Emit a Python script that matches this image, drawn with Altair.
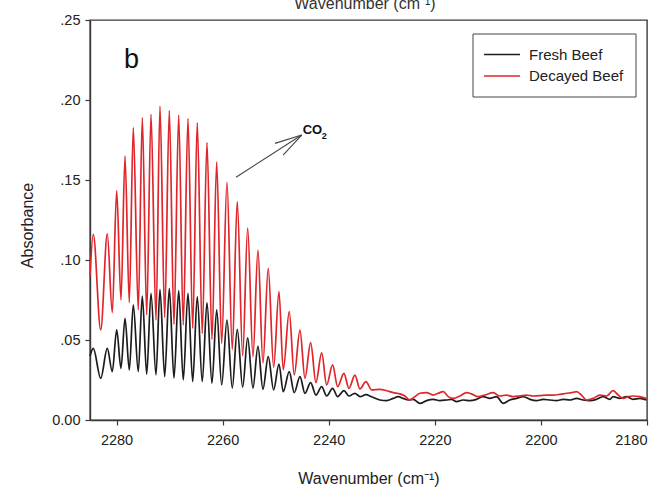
import altair as alt
import pandas as pd

FONT = "Liberation Sans"
series_names = ["Fresh Beef", "Decayed Beef"]
series_colors = ["#1c1c1c", "#e0262b"]

# CO2 rotational line positions (cm-1)
peak_wn = [2284.38, 2281.74, 2279.97, 2278.40, 2276.84, 2275.14, 2273.50, 2271.81,
           2270.05, 2268.28, 2266.53, 2264.78, 2262.95, 2261.12, 2259.18, 2257.24,
           2255.28, 2253.34, 2251.40, 2249.38, 2247.44, 2245.42, 2243.41, 2241.33,
           2239.26, 2237.13, 2235.06, 2232.98]
trough_wn = [2282.98, 2280.80, 2279.16, 2277.59, 2275.90, 2274.31, 2272.56, 2270.92,
             2269.17, 2267.42, 2265.64, 2263.84, 2262.01, 2260.18, 2258.18, 2256.22,
             2254.28, 2252.40, 2250.38, 2248.57, 2246.50, 2244.48, 2242.41, 2240.39,
             2238.32, 2236.19, 2234.11, 2231.91]

red_peak = [0.1160, 0.1163, 0.1433, 0.1650, 0.1827, 0.1890, 0.1910, 0.1962, 0.1933,
            0.1906, 0.1883, 0.1858, 0.1733, 0.1612, 0.1485, 0.1365, 0.1200, 0.1062,
            0.0948, 0.0802, 0.0677, 0.0562, 0.0483, 0.0420, 0.0344, 0.0292, 0.0281, 0.0240]
red_trough = [0.0563, 0.0671, 0.0750, 0.0734, 0.0688, 0.0657, 0.0625, 0.0642, 0.0598,
              0.0594, 0.0573, 0.0542, 0.0504, 0.0479, 0.0442, 0.0402, 0.0396, 0.0356,
              0.0330, 0.0313, 0.0282, 0.0261, 0.0234, 0.0219, 0.0209, 0.0198, 0.0194, 0.0188]
black_peak = [0.0448, 0.0448, 0.0563, 0.0636, 0.0719, 0.0775, 0.0792, 0.0817, 0.0823,
              0.0809, 0.0792, 0.0771, 0.0734, 0.0688, 0.0625, 0.0567, 0.0513, 0.0460,
              0.0396, 0.0350, 0.0302, 0.0271, 0.0234, 0.0209, 0.0198, 0.0184, 0.0167, 0.0158]
black_trough = [0.0261, 0.0302, 0.0323, 0.0313, 0.0302, 0.0286, 0.0282, 0.0271, 0.0261,
                0.0250, 0.0240, 0.0240, 0.0230, 0.0219, 0.0200, 0.0205, 0.0200, 0.0192,
                0.0188, 0.0177, 0.0171, 0.0167, 0.0156, 0.0150, 0.0146, 0.0150, 0.0146, 0.0145]

start_wn = 2285.0
red_start = 0.090
black_start = 0.040

# noisy baseline beyond the band
red_base_wn = [2230.35, 2229.09, 2227.84, 2226.58, 2225.64, 2224.70, 2223.75, 2222.81,
               2221.56, 2220.30, 2219.36, 2218.42, 2217.47, 2216.53, 2215.27, 2214.02,
               2213.08, 2211.82, 2210.56, 2208.99, 2207.74, 2206.48, 2205.22, 2203.97,
               2202.71, 2201.46, 2200.20, 2198.94, 2197.69, 2196.43, 2195.17, 2194.23,
               2193.29, 2192.35, 2191.41, 2190.15, 2188.89, 2187.64, 2186.38, 2185.44,
               2184.50, 2183.55, 2182.61, 2181.35, 2180.10]
red_base = [0.0192, 0.0183, 0.0171, 0.0163, 0.0150, 0.0125, 0.0146, 0.0167, 0.0171,
            0.0156, 0.0167, 0.0177, 0.0146, 0.0135, 0.0150, 0.0171, 0.0163, 0.0146,
            0.0156, 0.0171, 0.0150, 0.0156, 0.0146, 0.0150, 0.0156, 0.0150, 0.0152,
            0.0156, 0.0156, 0.0160, 0.0167, 0.0171, 0.0177, 0.0156, 0.0125, 0.0135,
            0.0156, 0.0150, 0.0183, 0.0156, 0.0135, 0.0146, 0.0150, 0.0146, 0.0135]
black_base_wn = [2230.35, 2229.09, 2227.84, 2226.90, 2225.95, 2225.01, 2224.07, 2222.81,
                 2221.56, 2220.30, 2219.04, 2217.79, 2216.85, 2215.90, 2214.65, 2213.39,
                 2212.13, 2210.88, 2209.62, 2208.36, 2207.11, 2205.85, 2204.60, 2203.34,
                 2202.08, 2200.83, 2199.57, 2198.31, 2197.06, 2195.80, 2194.55, 2193.29,
                 2192.03, 2190.78, 2189.52, 2188.26, 2187.01, 2186.38, 2185.12, 2183.87,
                 2182.61, 2181.35, 2180.10]
black_base = [0.0125, 0.0121, 0.0135, 0.0146, 0.0135, 0.0125, 0.0129, 0.0104, 0.0121,
              0.0129, 0.0121, 0.0125, 0.0129, 0.0115, 0.0125, 0.0121, 0.0129, 0.0146,
              0.0135, 0.0146, 0.0104, 0.0125, 0.0135, 0.0146, 0.0129, 0.0121, 0.0129,
              0.0125, 0.0121, 0.0129, 0.0125, 0.0135, 0.0125, 0.0121, 0.0129, 0.0146,
              0.0129, 0.0146, 0.0135, 0.0146, 0.0129, 0.0135, 0.0125]


def build(name, start, peaks, troughs, base_wn, base):
    rows = [(start_wn, start)]
    rows += list(zip(peak_wn, peaks)) + list(zip(trough_wn, troughs))
    rows += list(zip(base_wn, base))
    df = pd.DataFrame(rows, columns=["wn", "abs"])
    df["series"] = name
    return df.sort_values("wn", ascending=False)


data = pd.concat([
    build(series_names[0], black_start, black_peak, black_trough, black_base_wn, black_base),
    build(series_names[1], red_start, red_peak, red_trough, red_base_wn, red_base),
])

x_scale = alt.Scale(domain=[2180, 2285], reverse=True, nice=False, zero=False)
y_scale = alt.Scale(domain=[0, 0.25], nice=False)

lines = alt.Chart(data).mark_line(strokeWidth=1.7, interpolate="monotone").encode(
    x=alt.X("wn:Q", scale=x_scale,
            axis=alt.Axis(title="Wavenumber (cm⁻¹)", values=[2280, 2260, 2240, 2220, 2200, 2180],
                          format="d", titleY=58, titleBaseline="middle")),
    y=alt.Y("abs:Q", scale=y_scale,
            axis=alt.Axis(title="Absorbance", values=[0, 0.05, 0.10, 0.15, 0.20, 0.25],
                          labelExpr="datum.value == 0 ? '0.00' : replace(format(datum.value, '.2f'), '0.', '.')",
                          titleX=-63, titleY=205, titleBaseline="middle", titleAlign="center")),
    color=alt.Color("series:N", scale=alt.Scale(domain=series_names, range=series_colors), legend=None),
    detail="series:N",
)

# CO2 annotation arrow (in data coordinates)
arrow_df = pd.DataFrame({
    "x1": [2257.48, 2245.10, 2245.10],
    "y1": [0.1517, 0.1781, 0.1781],
    "x2": [2245.10, 2250.13, 2248.60],
    "y2": [0.1781, 0.1729, 0.1656],
})
arrow = alt.Chart(arrow_df).mark_rule(color="#444", strokeWidth=1.1).encode(
    x=alt.X("x1:Q", scale=x_scale), x2="x2:Q",
    y=alt.Y("y1:Q", scale=y_scale), y2="y2:Q",
)
co_df = pd.DataFrame({"x": [2244.9], "y": [0.1786], "t": ["CO"]})
co = alt.Chart(co_df).mark_text(font=FONT, fontSize=13, fontWeight="bold", align="left",
                                baseline="alphabetic", color="#111").encode(
    x=alt.X("x:Q", scale=x_scale), y=alt.Y("y:Q", scale=y_scale), text="t:N")
sub_df = pd.DataFrame({"x": [2241.3], "y": [0.1755], "t": ["2"]})
sub = alt.Chart(sub_df).mark_text(font=FONT, fontSize=9, fontWeight="bold", align="left",
                                  baseline="alphabetic", color="#111").encode(
    x=alt.X("x:Q", scale=x_scale), y=alt.Y("y:Q", scale=y_scale), text="t:N")
b_df = pd.DataFrame({"x": [2278.6], "y": [0.2197], "t": ["b"]})
blabel = alt.Chart(b_df).mark_text(font=FONT, fontSize=27, align="left",
                                   baseline="alphabetic", color="#111").encode(
    x=alt.X("x:Q", scale=x_scale), y=alt.Y("y:Q", scale=y_scale), text="t:N")

# custom legend box
one = pd.DataFrame({"k": [0]})
leg_box = alt.Chart(one).mark_rect(fill="white", stroke="#444", strokeWidth=1).encode(
    x=alt.value(383), x2=alt.value(546), y=alt.value(14), y2=alt.value(77))
leg_df = pd.DataFrame({"series": series_names, "yy": [34.5, 56]})
leg_lines = alt.Chart(leg_df).mark_rule(strokeWidth=1.3).encode(
    x=alt.value(394), x2=alt.value(430), y=alt.Y("yy:Q", scale=None),
    color=alt.Color("series:N", scale=alt.Scale(domain=series_names, range=series_colors), legend=None))
leg_text = alt.Chart(leg_df).mark_text(font=FONT, fontSize=15, align="left", baseline="middle",
                                       color="#222").encode(
    x=alt.value(439), y=alt.Y("yy:Q", scale=None), text="series:N")

top_df = pd.DataFrame({"t": ["Wavenumber (cm⁻¹)"]})
top_title = alt.Chart(top_df).mark_text(font=FONT, fontSize=16, align="center",
                                        baseline="alphabetic", color="#333").encode(
    x=alt.value(275), y=alt.value(-11), text="t:N")

chart = alt.layer(lines, arrow, co, sub, blabel, leg_box, leg_lines, leg_text, top_title).resolve_scale(
    color="independent"
).properties(
    width=557, height=400,
    autosize=alt.AutoSizeParams(type="none"),
    padding={"left": 90, "top": 20, "right": 20, "bottom": 73},
    background="white",
).configure_view(
    stroke="#3a3a3a", strokeWidth=1.4
).configure_axis(
    labelFont=FONT, titleFont=FONT, labelFontSize=14.5, titleFontSize=16,
    titleFontWeight="normal", labelColor="#222", titleColor="#222",
    domainColor="#3a3a3a", domainWidth=1.4, tickColor="#3a3a3a", tickWidth=1.2,
    tickSize=5, labelPadding=5, grid=False,
).configure_axisX(labelPadding=8)

chart.save("out.html", embed_options={"renderer": "svg", "actions": False})
